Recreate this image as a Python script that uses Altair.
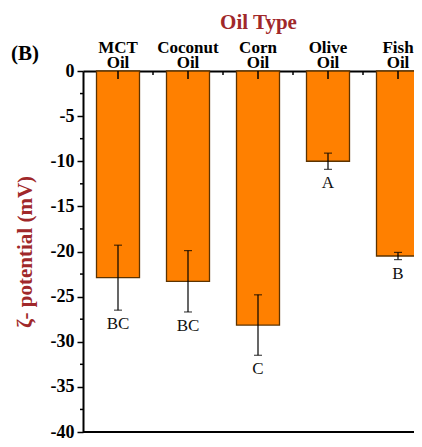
import altair as alt
import pandas as pd

categories = ["MCT Oil", "Coconut Oil", "Corn Oil", "Olive Oil", "Fish Oil"]
zeta = [-22.9, -23.3, -28.15, -10.0, -20.5]
err = [3.6, 3.4, 3.35, 0.9, 0.4]
letters = ["BC", "BC", "C", "A", "B"]
y_ticks = [0, -5, -10, -15, -20, -25, -30, -35, -40]

df = pd.DataFrame({"cat": categories, "zeta": zeta, "err": err, "letter": letters})
df["lo"] = df["zeta"] - df["err"]
df["hi"] = df["zeta"] + df["err"]

SERIF = "Liberation Serif"
RED = "#a0282a"
BAND_RANGE = 350
W, H = 331, 361
PAD = {"left": 75, "top": 63, "right": 0, "bottom": 7}

xscale = alt.Scale(domain=categories, range=[0, BAND_RANGE],
                   paddingInner=27 / 70, paddingOuter=27 / 140)
xenc = alt.X(
    "cat:N", sort=categories, scale=xscale,
    axis=alt.Axis(
        orient="top", title="Oil Type", titleFont=SERIF, titleFontSize=21,
        titleColor=RED, titleFontWeight="bold", titlePadding=6,
        labelFont=SERIF, labelFontSize=17, labelFontWeight="bold", labelColor="black",
        labelAngle=0, labelPadding=15, labelLineHeight=15,
        labelExpr="split(datum.label, ' ')",
        tickSize=0, domainWidth=2, domainColor="black",
    ),
)
xplain = alt.X("cat:N", sort=categories, scale=xscale)
yscale = alt.Scale(domain=[-40, 0], nice=False, zero=False)
yenc = alt.Y(
    "zeta:Q", scale=yscale,
    axis=alt.Axis(
        values=y_ticks, labelExpr="'' + datum.value", title="ζ- potential (mV)", titleFont=SERIF,
        titleFontSize=21, titleFontWeight="bold", titleColor=RED, titlePadding=15,
        labelFont=SERIF, labelFontSize=18, labelFontWeight="bold", labelColor="black",
        labelPadding=3, tickSize=6, tickWidth=1.5, tickColor="black",
        domainWidth=2, domainColor="black", grid=False,
    ),
)

base = alt.Chart(df)
bars = base.mark_bar(color="#FF8000", stroke="#5c3300", strokeWidth=1.3).encode(
    x=xenc, y=yenc, y2=alt.Y2(datum=0)
)
err_rule = base.mark_rule(color="black", strokeWidth=1.2).encode(
    x=xplain, y=alt.Y("lo:Q", scale=yscale), y2="hi:Q"
)
cap_lo = base.mark_tick(color="black", thickness=1.2, size=8, orient="horizontal").encode(
    x=xplain, y=alt.Y("lo:Q", scale=yscale)
)
cap_hi = base.mark_tick(color="black", thickness=1.2, size=8, orient="horizontal").encode(
    x=xplain, y=alt.Y("hi:Q", scale=yscale)
)
letter_txt = base.mark_text(font=SERIF, fontSize=17, baseline="top", dy=6, color="#111").encode(
    x=xplain, y=alt.Y("lo:Q", scale=yscale), text="letter:N"
)
top_ticks = base.mark_rule(color="black", strokeWidth=1.5).encode(
    x=xplain, y=alt.value(0), y2=alt.value(8)
)
mid_ticks = base.mark_rule(color="black", strokeWidth=1.5, xOffset=35).encode(
    x=xplain, y=alt.value(0), y2=alt.value(4)
)
minor = alt.Chart(alt.sequence(-37.5, 0, 5, as_="v")).mark_rule(color="black", strokeWidth=1.5).encode(
    y=alt.Y("v:Q", scale=yscale), x=alt.value(-3), x2=alt.value(0)
)
bottom_line = alt.Chart(alt.Data(values=[{"a": 1}])).mark_rule(color="black", strokeWidth=2).encode(
    y=alt.value(H), x=alt.value(0), x2=alt.value(BAND_RANGE)
)
label_b = alt.Chart(alt.Data(values=[{"a": 1}])).mark_text(
    text="(B)", font=SERIF, fontSize=21, fontWeight="bold", color="black"
).encode(x=alt.value(-58), y=alt.value(-17))

chart = alt.layer(
    bars, err_rule, cap_lo, cap_hi, letter_txt, top_ticks, mid_ticks, minor, bottom_line, label_b
).properties(
    width=W, height=H, autosize="none", padding=PAD,
).configure_view(stroke=None)

chart.save("out.html", embed_options={"renderer": "svg", "actions": False})
